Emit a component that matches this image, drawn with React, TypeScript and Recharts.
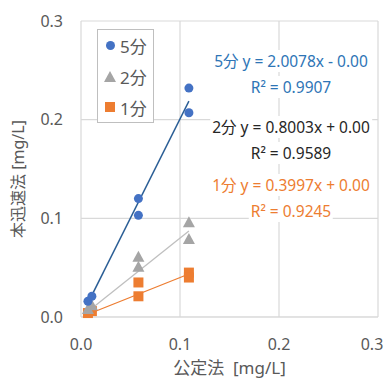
import React from 'react';
import {
  ScatterChart,
  Scatter,
  XAxis,
  YAxis,
  CartesianGrid,
  Label
} from 'recharts';

// 公定法 values (x) and 本迅速法 values (y) for each measurement time
const xValues = [0.007, 0.011, 0.058, 0.058, 0.109, 0.109];
const y5min = [0.016, 0.021, 0.120, 0.103, 0.232, 0.207];
const y2min = [0.008, 0.012, 0.061, 0.051, 0.096, 0.079];
const y1min = [0.004, 0.006, 0.035, 0.021, 0.045, 0.040];

const axisTicks = [0, 0.1, 0.2, 0.3];

// fitted trendlines as printed on the chart
const fits = [
  { name: '5分', slope: 2.0078, intercept: 0, eq: '5分 y = 2.0078x - 0.00', r2: 'R² = 0.9907', color: '#2E75B6', line: '#2B5F96' },
  { name: '2分', slope: 0.8003, intercept: 0, eq: '2分 y = 0.8003x + 0.00', r2: 'R² = 0.9589', color: '#262626', line: '#BFBFBF' },
  { name: '1分', slope: 0.3997, intercept: 0, eq: '1分 y = 0.3997x + 0.00', r2: 'R² = 0.9245', color: '#ED7D31', line: '#ED7D31' }
];

const BLUE = '#4472C4';
const GRAY = '#A5A5A5';
const ORANGE = '#ED7D31';
const TEXT = '#595959';
const FONT = '"Noto Sans", "Noto Sans CJK JP", sans-serif';

const toPoints = (ys: number[]) => xValues.map((x, i) => ({ x, y: ys[i] }));

const xMin = Math.min(...xValues);
const xMax = Math.max(...xValues);
const trend = (slope: number, intercept: number) => [
  { x: xMin, y: slope * xMin + intercept },
  { x: xMax, y: slope * xMax + intercept }
];

const Dot = (p: any) => <circle cx={p.cx} cy={p.cy} r={4.5} fill={BLUE} />;
const Tri = (p: any) => (
  <polygon
    points={`${p.cx},${p.cy - 6} ${p.cx - 6},${p.cy + 5} ${p.cx + 6},${p.cy + 5}`}
    fill={GRAY}
  />
);
const Sq = (p: any) => <rect x={p.cx - 5} y={p.cy - 5} width={10} height={10} fill={ORANGE} />;
const NoShape = () => <g />;

// x tick; the last one is nudged left a little so it stays inside the page
const XTick = (p: any) => {
  const last = p.payload.value === axisTicks[axisTicks.length - 1];
  return (
    <text
      x={p.x + (last ? -6 : 0)}
      y={p.y + 11}
      textAnchor="middle"
      dominantBaseline="hanging"
      fill={TEXT}
      fontSize={16}
      fontFamily={FONT}
    >
      {p.payload.value.toFixed(1)}
    </text>
  );
};

const YTitle = (props: any) => {
  const vb = props.viewBox;
  const x = vb.x - 8;
  const y = vb.y + vb.height / 2 + 10;
  return (
    <text
      x={x}
      y={y}
      transform={`rotate(-90 ${x} ${y})`}
      textAnchor="middle"
      dominantBaseline="central"
      fill={TEXT}
      fontSize={16}
      fontFamily={FONT}
    >
      本迅速法 [mg/L]
    </text>
  );
};

const XTitle = (props: any) => {
  const vb = props.viewBox;
  return (
    <text
      x={vb.x + vb.width / 2}
      y={vb.y + 50}
      textAnchor="middle"
      dominantBaseline="central"
      fill={TEXT}
      fontSize={17}
      fontFamily={FONT}
      style={{ whiteSpace: 'pre' }}
    >
      {'公定法  [mg/L]'}
    </text>
  );
};

export default function App() {
  return (
    <div style={{ position: 'relative', width: 384, height: 370, fontFamily: FONT }}>
      <style>{'html, body { overflow: hidden; }'}</style>
      <ScatterChart width={384} height={370} margin={{ top: 13, right: 14, bottom: 6, left: 18 }}>
        <CartesianGrid stroke="#D9D9D9" strokeWidth={1.2} />
        <XAxis
          type="number"
          dataKey="x"
          domain={[0, 0.3]}
          ticks={axisTicks}
          axisLine={{ stroke: '#D9D9D9' }}
          tickLine={false}
          height={55}
          interval={0}
          tick={XTick}
        >
          <Label content={XTitle} />
        </XAxis>
        <YAxis
          type="number"
          dataKey="y"
          domain={[0, 0.3]}
          ticks={axisTicks}
          tickFormatter={(v: number) => v.toFixed(1)}
          axisLine={false}
          tickLine={false}
          tickMargin={12}
          width={55}
          tick={{ fill: TEXT, fontSize: 16, fontFamily: FONT }}
        >
          <Label content={YTitle} />
        </YAxis>
        <Scatter data={trend(fits[2].slope, fits[2].intercept)} line={{ stroke: fits[2].line, strokeWidth: 1.3 }} shape={NoShape} isAnimationActive={false} />
        <Scatter data={trend(fits[1].slope, fits[1].intercept)} line={{ stroke: fits[1].line, strokeWidth: 1.3 }} shape={NoShape} isAnimationActive={false} />
        <Scatter data={trend(fits[0].slope, fits[0].intercept)} line={{ stroke: fits[0].line, strokeWidth: 1.5 }} shape={NoShape} isAnimationActive={false} />
        <Scatter name="1分" data={toPoints(y1min)} shape={Sq} isAnimationActive={false} />
        <Scatter name="2分" data={toPoints(y2min)} shape={Tri} isAnimationActive={false} />
        <Scatter name="5分" data={toPoints(y5min)} shape={Dot} isAnimationActive={false} />
      </ScatterChart>

      {/* legend */}
      <div
        style={{
          position: 'absolute',
          left: 89,
          top: 21,
          width: 55,
          height: 92,
          border: '1px solid #BFBFBF',
          background: '#fff',
          color: TEXT,
          fontSize: 17
        }}
      >
        {[
          { label: '5分', mark: <span style={{ display: 'inline-block', width: 9, height: 9, borderRadius: '50%', background: BLUE }} /> },
          { label: '2分', mark: <span style={{ display: 'inline-block', width: 0, height: 0, borderLeft: '6px solid transparent', borderRight: '6px solid transparent', borderBottom: '11px solid ' + GRAY }} /> },
          { label: '1分', mark: <span style={{ display: 'inline-block', width: 10, height: 10, background: ORANGE }} /> }
        ].map((d, i) => (
          <div
            key={d.label}
            style={{ position: 'absolute', left: 6, top: 3 + i * 31, height: 24, display: 'flex', alignItems: 'center', gap: 4 }}
          >
            <span style={{ width: 12, display: 'flex', justifyContent: 'center' }}>{d.mark}</span>
            <span>{d.label}</span>
          </div>
        ))}
      </div>

      {/* trendline equations */}
      {fits.map((f, i) => (
        <React.Fragment key={f.name}>
          {[f.eq, f.r2].map((t, j) => (
            <div
              key={t}
              style={{
                position: 'absolute',
                left: 283,
                top: [53, 119, 177][i] + j * 26 - 11,
                transform: 'translateX(-50%)',
                whiteSpace: 'nowrap',
                background: '#fff',
                color: f.color,
                fontSize: 15.5,
                lineHeight: '22px',
                padding: '0 2px'
              }}
            >
              {t}
            </div>
          ))}
        </React.Fragment>
      ))}
    </div>
  );
}
